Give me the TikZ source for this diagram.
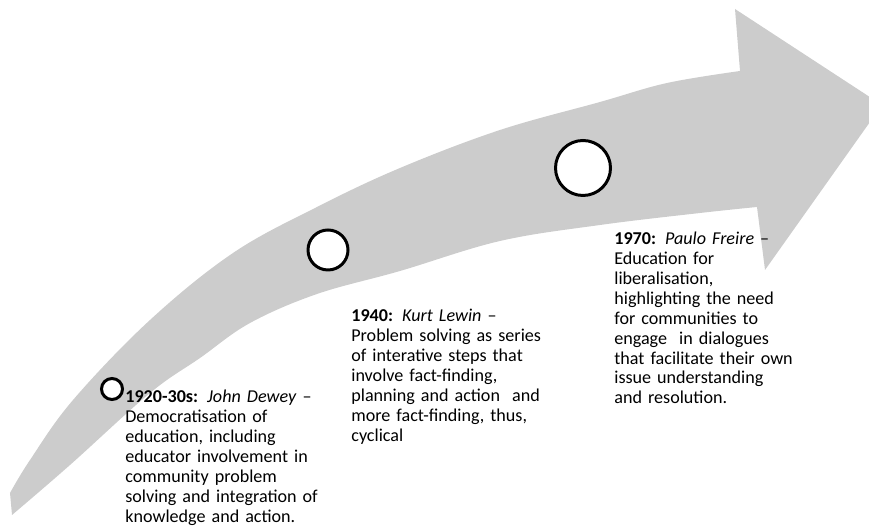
\documentclass[tikz,border=0pt]{standalone}
\usepackage{fontspec}
\setmainfont{Carlito}
\usetikzlibrary{calc}
\definecolor{bandgrey}{RGB}{204,204,204}
\definecolor{ringline}{RGB}{0,0,0}

\begin{document}
\begin{tikzpicture}[
    ring/.style={circle, draw=ringline, line width=1.7pt, fill=white, inner sep=0pt},
    era/.style={anchor=base west, text width=4.4cm, align=left, inner sep=0pt,
                font=\fontsize{10.3}{11.3}\selectfont}
]

    \useasboundingbox (0,0) rectangle (17.38,10.54);

    % curved band with its head
    \fill[bandgrey] (0.24,0.24) -- (0.20,0.68)
        -- plot[smooth, tension=0.6] coordinates {(0.20,0.68) (0.60,1.34) (1.46,2.54) (3.00,4.14) (4.66,5.48)
            (6.34,6.40) (8.00,7.18) (10.00,7.94) (12.00,8.50) (13.34,8.88) (14.80,9.12)}
        -- (14.70,10.36) -- (17.64,8.44) -- (15.30,5.14) -- (15.14,6.40)
        -- plot[smooth, tension=0.6] coordinates {(15.14,6.40) (14.00,6.28) (12.00,6.04) (10.00,5.72)
            (8.00,5.12) (6.34,4.66) (5.00,4.08) (4.00,3.38) (3.00,2.68) (1.40,1.24) (0.24,0.24)}
        -- cycle;

    \foreach \n/\x/\y/\d in {1/2.24/2.76/0.42, 2/6.56/5.54/0.80, 3/11.66/7.18/1.10}{
            \node[ring, minimum size=\d cm] (C\n) at (\x,\y) {};
        }

    \node[era] (T1) at (2.50,2.48) {\textbf{1920-30s:} \textit{John Dewey} --\\
        Democratisation of\\
        education, including\\
        educator involvement in\\
        community problem\\
        solving and integration of\\
        knowledge and action.};

    \node[era] (T2) at (7.02,4.10) {\textbf{1940:} \textit{Kurt Lewin} --\\
        Problem solving as series\\
        of interative steps that\\
        involve fact-finding,\\
        planning and action\ \ and\\
        more fact-finding, thus,\\
        cyclical};

    \node[era] (T3) at (12.28,5.64) {\textbf{1970:} \textit{Paulo Freire} --\\
        Education for\\
        liberalisation,\\
        highlighting the need\\
        for communities to\\
        engage\ \ in dialogues\\
        that facilitate their own\\
        issue understanding\\
        and resolution.};

\end{tikzpicture}
\end{document}
